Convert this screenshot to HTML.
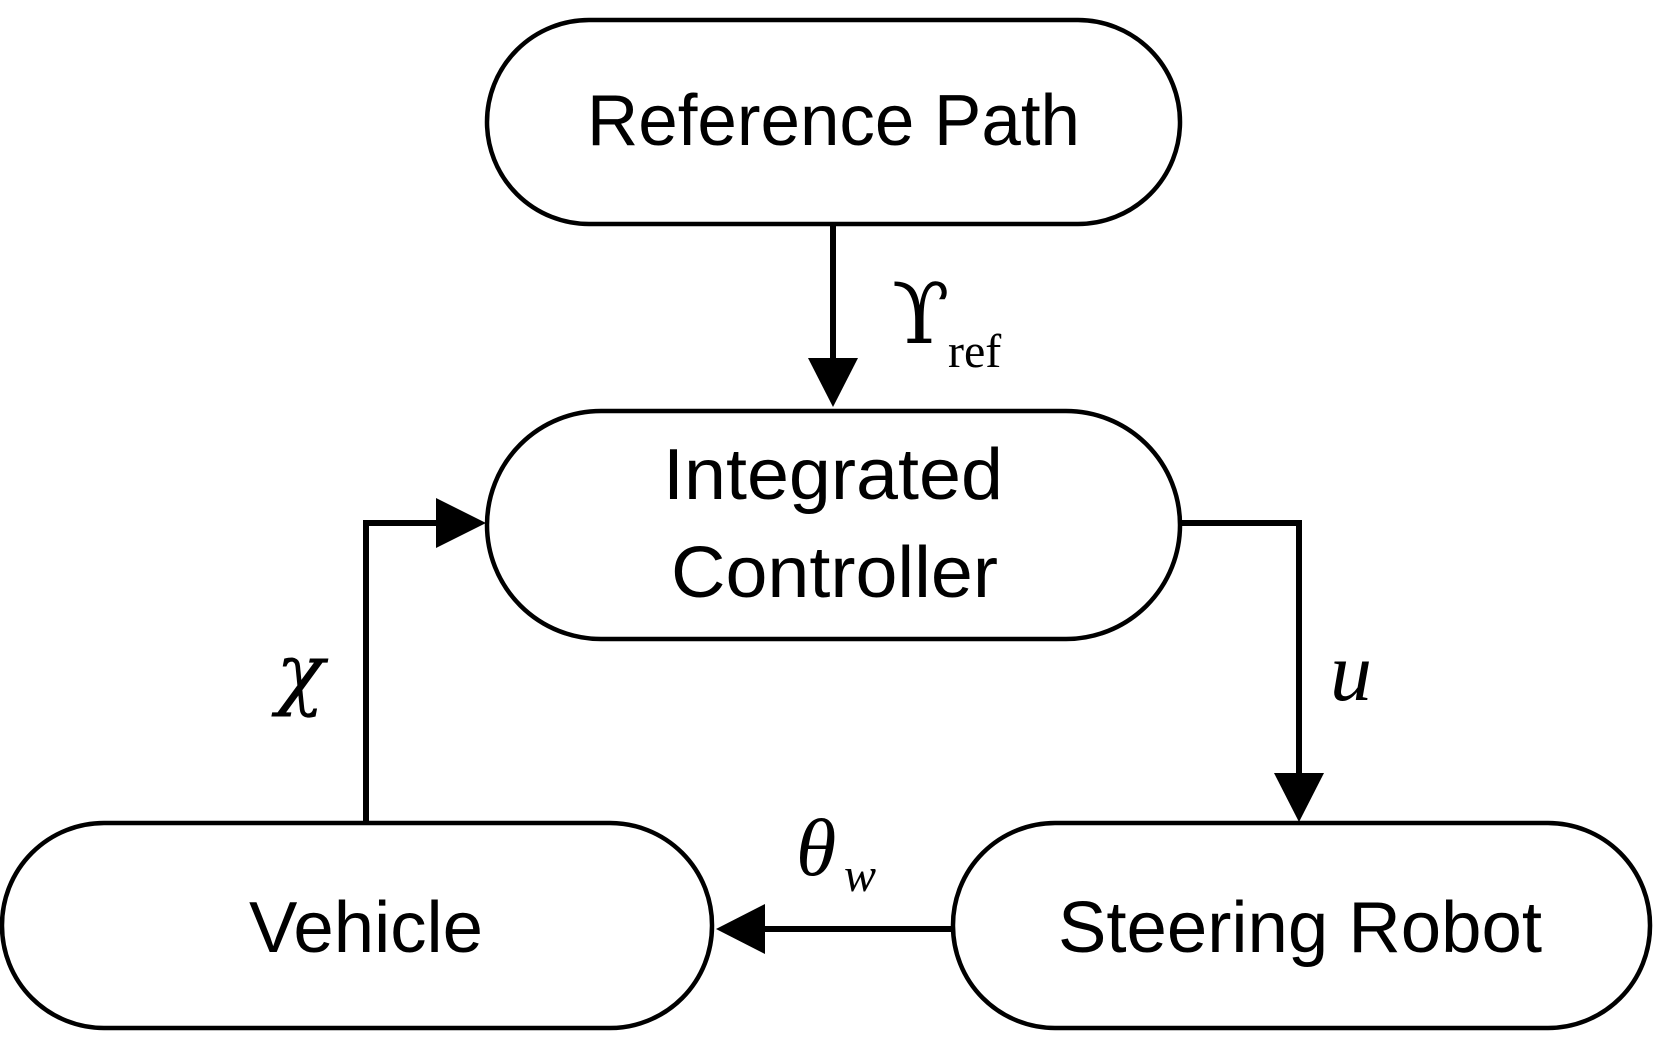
<!DOCTYPE html>
<html><head><meta charset="utf-8"><style>html,body{margin:0;padding:0;background:#fff}</style></head>
<body>
<svg width="1664" height="1053" viewBox="0 0 1664 1053" xmlns="http://www.w3.org/2000/svg">
<g fill="none" stroke="#000" stroke-width="4.5">
<rect x="487" y="20" width="693" height="204" rx="102"/>
<rect x="487" y="411" width="693" height="228" rx="114"/>
<rect x="2" y="823" width="710" height="205" rx="102"/>
<rect x="953" y="823" width="697" height="205" rx="102"/>
</g>
<g stroke="#000" stroke-width="6" fill="none">
<line x1="833" y1="224" x2="833" y2="362"/>
<polyline points="366,823 366,523 440,523"/>
<polyline points="1180,523 1299,523 1299,776"/>
<line x1="953" y1="929" x2="764" y2="929"/>
</g>
<g fill="#000">
<polygon points="808,358 858,358 833,407"/>
<polygon points="436,498 436,548 486,523"/>
<polygon points="1274,773 1324,773 1299,822"/>
<polygon points="765,904 765,954 716,929"/>
</g>
<g font-family="Liberation Sans, sans-serif" font-size="72" fill="#000">
<text x="587" y="145" textLength="493" lengthAdjust="spacingAndGlyphs">Reference Path</text>
<text x="663" y="499" textLength="340" lengthAdjust="spacingAndGlyphs">Integrated</text>
<text x="671" y="597" textLength="327" lengthAdjust="spacingAndGlyphs">Controller</text>
<text x="249" y="952" textLength="234" lengthAdjust="spacingAndGlyphs">Vehicle</text>
<text x="1058" y="952" textLength="484" lengthAdjust="spacingAndGlyphs">Steering Robot</text>
</g>
<g font-family="Liberation Serif, DejaVu Serif, serif" fill="#000">
<text x="892" y="343" font-size="84" font-family="DejaVu Serif, serif">ϒ</text>
<text x="948" y="367" font-size="48">ref</text>
<text x="276" y="700" font-size="80" font-style="italic" font-family="DejaVu Serif, serif">χ</text>
<text x="1330" y="700" font-size="84" font-style="italic">u</text>
<text x="796" y="875" font-size="82" font-style="italic">θ</text>
<text x="844" y="891" font-size="48" font-style="italic">w</text>
</g>
</svg>
</body></html>
